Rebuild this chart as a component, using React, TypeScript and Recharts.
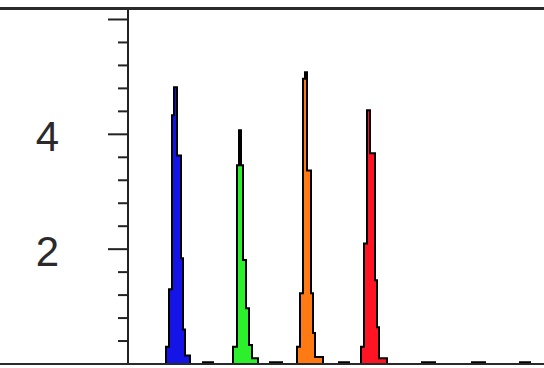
import { ComposedChart, Area, XAxis, YAxis, ReferenceLine } from "recharts";

// scan positions where each step starts, and the signal height from there on
const bluePeakScans = [3838, 3841, 3844, 3846, 3849, 3853, 3855, 3857, 3862];
const bluePeakHeights = [0.3, 1.3, 4.33, 4.82, 3.63, 1.84, 0.6, 0.15, 0];

const greenPeakScans = [3905, 3909, 3911, 3913, 3915, 3918, 3921, 3924, 3930];
const greenPeakHeights = [0.3, 3.46, 4.07, 3.46, 1.81, 0.97, 0.33, 0.1, 0];

const orangePeakScans = [3969, 3972, 3975, 3977, 3979, 3983, 3985, 3987, 3995];
const orangePeakHeights = [0.3, 1.23, 4.97, 5.08, 3.37, 1.23, 0.54, 0.12, 0];

const redPeakScans = [4033, 4036, 4039, 4042, 4047, 4049, 4051, 4059];
const redPeakHeights = [0.3, 2.1, 4.42, 3.67, 1.46, 0.64, 0.1, 0];

const noiseScans = [3875, 3885, 3942, 3954, 4011, 4021, 4094, 4107, 4144, 4157, 4192, 4202];
const noiseHeights = [0.03, 0, 0.03, 0, 0.03, 0, 0.03, 0, 0.03, 0, 0.03, 0];

const scanRange = [3800, 4232];

const yTicks = [0, 0.4, 0.8, 1.2, 1.6, 2, 2.4, 2.8, 3.2, 3.6, 4, 4.4, 4.8, 5.2, 5.6, 6];
const majorTicks = [0, 2, 4, 6];
const labeledTicks = [2, 4];

const series = [
  { key: "blue", scans: bluePeakScans, heights: bluePeakHeights, fill: "#1414e6" },
  { key: "green", scans: greenPeakScans, heights: greenPeakHeights, fill: "#2cf02c" },
  { key: "orange", scans: orangePeakScans, heights: orangePeakHeights, fill: "#ff7a12" },
  { key: "red", scans: redPeakScans, heights: redPeakHeights, fill: "#ff1424" },
  { key: "noise", scans: noiseScans, heights: noiseHeights, fill: "#111" },
];

function stepValue(scans: number[], heights: number[], scan: number) {
  let v = 0;
  scans.forEach((s, i) => {
    if (s <= scan) v = heights[i];
  });
  return v;
}

const allScans = Array.from(
  new Set([scanRange[0], scanRange[1], ...series.flatMap((s) => s.scans)])
).sort((a, b) => a - b);

const data = allScans.map((scan) => {
  const row: Record<string, number> = { scan };
  series.forEach((s) => {
    row[s.key] = stepValue(s.scans, s.heights, scan);
  });
  return row;
});

function YTick(props: any) {
  const { x, y, payload } = props;
  const v = payload.value;
  const major = majorTicks.includes(v);
  return (
    <g>
      <line x1={x - (major ? 20 : 10)} x2={x} y1={y} y2={y} stroke="#222" strokeWidth={2} />
      {labeledTicks.includes(v) && (
        <text
          x={x - 69}
          y={y}
          dy={17}
          textAnchor="end"
          fontSize={42}
          fontFamily="'Liberation Sans', Arial, sans-serif"
          fill="#2a2a2a"
        >
          {v}
        </text>
      )}
    </g>
  );
}

export default function App() {
  return (
    <div
      style={{
        position: "absolute",
        left: 0,
        top: 0,
        width: 544,
        height: 368,
        overflow: "hidden",
        background: "#fff",
      }}
    >
      <ComposedChart
        width={560}
        height={380}
        data={data}
        margin={{ top: 8, right: 0, bottom: 16, left: 0 }}
      >
        <XAxis
          dataKey="scan"
          type="number"
          domain={scanRange}
          allowDataOverflow
          hide
        />
        <YAxis
          type="number"
          domain={[0, 6.2]}
          ticks={yTicks}
          interval={0}
          width={128}
          tickSize={0}
          tickMargin={0}
          tickLine={false}
          tick={<YTick />}
          axisLine={{ stroke: "#222", strokeWidth: 2 }}
        />
        {series.map((s) => (
          <Area
            key={s.key}
            dataKey={s.key}
            type="stepAfter"
            fill={s.fill}
            fillOpacity={1}
            stroke="#000"
            strokeWidth={2}
            isAnimationActive={false}
            dot={false}
            activeDot={false}
          />
        ))}
        <ReferenceLine y={0} stroke="#222" strokeWidth={2} />
      </ComposedChart>
      <div
        style={{ position: "absolute", left: 0, top: 7, width: 544, height: 3, background: "#2a2a2a" }}
      />
      <div
        style={{ position: "absolute", left: 0, top: 363, width: 544, height: 2, background: "#2a2a2a" }}
      />
    </div>
  );
}
